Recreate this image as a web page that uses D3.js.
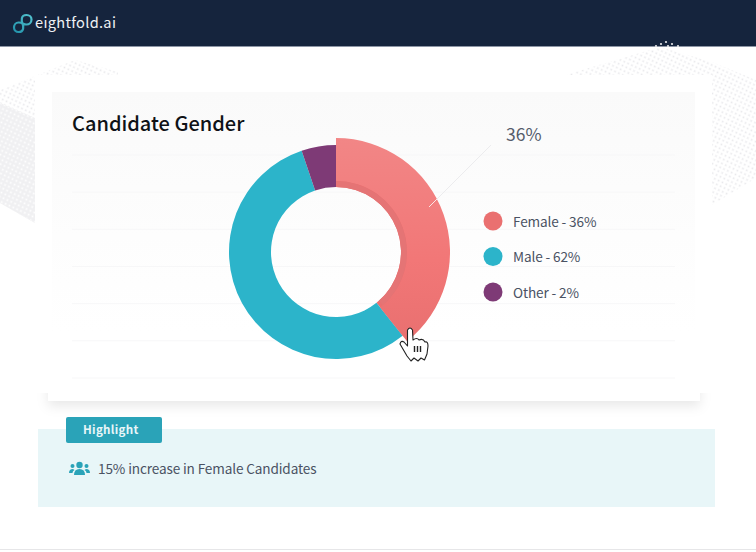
<!DOCTYPE html>
<html>
<head>
<meta charset="utf-8">
<script src="https://cdn.jsdelivr.net/npm/d3@7"></script>
<style>
  html, body { margin: 0; padding: 0; background: #fff; }
  svg { display: block; }
  text { font-family: "Noto Sans CJK SC", "Noto Sans", sans-serif; }
</style>
</head>
<body>
<div id="chart"></div>
<script>
const categories = ["Female", "Male", "Other"];
// the legend says 36 / 62 / 2 but the slices are not drawn to those numbers
const legendValues = [36, 62, 2];
const sliceValues = [39.3, 55.5, 5.2];
const colors = ["#ea7070", "#2cb4ca", "#7e3a76"];
const gridRows = [0, 1, 2, 3, 4, 5, 6];

const width = 756, height = 552;
const svg = d3.select("#chart").append("svg")
  .attr("width", width)
  .attr("height", height);

const defs = svg.append("defs");

// dotted background, grey dots on white and white dots on grey
const makeDots = (id, color) => {
  const p = defs.append("pattern")
    .attr("id", id)
    .attr("width", 6).attr("height", 6)
    .attr("patternUnits", "userSpaceOnUse")
    .attr("patternTransform", "rotate(-20)");
  p.append("circle").attr("cx", 1.5).attr("cy", 1.5).attr("r", 1).attr("fill", color);
  p.append("circle").attr("cx", 4.5).attr("cy", 4.5).attr("r", 1).attr("fill", color);
};
makeDots("dots", "#e8e8eb");
makeDots("dotsWhite", "#ffffff");

const femaleGrad = defs.append("linearGradient")
  .attr("id", "femaleGrad")
  .attr("x1", 0).attr("y1", 0).attr("x2", 0).attr("y2", 1);
femaleGrad.append("stop").attr("offset", "0%").attr("stop-color", "#f28686");
femaleGrad.append("stop").attr("offset", "60%").attr("stop-color", "#f27777");
femaleGrad.append("stop").attr("offset", "100%").attr("stop-color", "#e97070");

const panelGrad = defs.append("linearGradient")
  .attr("id", "panelGrad")
  .attr("x1", 0).attr("y1", 0).attr("x2", 0).attr("y2", 1);
panelGrad.append("stop").attr("offset", "0%").attr("stop-color", "#fafafa");
panelGrad.append("stop").attr("offset", "100%").attr("stop-color", "#ffffff");

const logoGrad = defs.append("linearGradient")
  .attr("id", "logoGrad")
  .attr("gradientUnits", "userSpaceOnUse")
  .attr("x1", 13).attr("y1", 33).attr("x2", 32).attr("y2", 14);
logoGrad.append("stop").attr("offset", "0%").attr("stop-color", "#1f8fa8");
logoGrad.append("stop").attr("offset", "100%").attr("stop-color", "#55c6d2");

const shadow = defs.append("filter")
  .attr("id", "cardShadow")
  .attr("x", "-5%").attr("y", "-10%").attr("width", "110%").attr("height", "130%");
shadow.append("feDropShadow")
  .attr("dx", 0).attr("dy", 5).attr("stdDeviation", 6)
  .attr("flood-color", "#000").attr("flood-opacity", 0.09);

svg.append("rect").attr("width", width).attr("height", height).attr("fill", "#fff");

// background dots, left and right of the card
svg.append("path")
  .attr("d", "M0,90 L75,60 L118,72 L118,90 L35,118 L35,223 L0,203 Z")
  .attr("fill", "url(#dots)");
const greyPatch = "M0,103 L35,118 L35,223 L0,203 Z";
svg.append("path").attr("d", greyPatch).attr("fill", "#f0f0f2");
svg.append("path").attr("d", greyPatch).attr("fill", "url(#dotsWhite)");
svg.append("path")
  .attr("d", "M565,75 L660,47 L712,62 L756,80 L756,178 L712,205 L600,205 Z")
  .attr("fill", "url(#dots)");

// header
svg.append("rect").attr("width", width).attr("height", 46).attr("fill", "#15243d");
svg.append("rect").attr("y", 46).attr("width", width).attr("height", 1).attr("fill", "#8d96a6");
[[656, 46], [661, 44], [666, 42], [668, 46], [672, 44], [678, 46]].forEach(p => {
  svg.append("circle").attr("cx", p[0]).attr("cy", p[1]).attr("r", 1.1).attr("fill", "#e8e8ea");
});

// logo
const logo = svg.append("g");
logo.append("path")
  .attr("d", "M22.5,23.5 C21.5,21 20.5,15 26.5,15 C29.5,15 31.5,17 31.5,19.5 C31.5,22.5 29,24.5 26.5,24.5 C25,24.5 24,24.6 22.5,23.5 C21,22.4 20,22.5 18.5,22.5 C16,22.5 14,24.5 14,27.5 C14,30 16,32 18.5,32 C24.5,32 23.5,26 22.5,23.5 Z")
  .attr("fill", "none")
  .attr("stroke", "url(#logoGrad)")
  .attr("stroke-width", 2.2);
logo.append("text")
  .attr("x", 35).attr("y", 28)
  .attr("font-size", 14.6)
  .attr("letter-spacing", 0.3)
  .attr("fill", "#eef1f4")
  .text("eightfold.ai");

// card: the shadow goes first so only its bottom edge shows
svg.append("rect")
  .attr("x", 48).attr("y", 300)
  .attr("width", 652).attr("height", 101)
  .attr("fill", "#fff")
  .attr("filter", "url(#cardShadow)");
svg.append("rect")
  .attr("x", 35).attr("y", 75)
  .attr("width", 677).attr("height", 318)
  .attr("fill", "#fff");
svg.append("rect")
  .attr("x", 52).attr("y", 92)
  .attr("width", 643).attr("height", 240)
  .attr("fill", "url(#panelGrad)");

// faint row lines behind the donut
const gridY = d3.scaleLinear().domain([0, 6]).range([155, 378]);
svg.append("g").selectAll("line")
  .data(gridRows)
  .enter()
  .append("line")
  .attr("x1", 72).attr("x2", 675)
  .attr("y1", d => gridY(d)).attr("y2", d => gridY(d))
  .attr("stroke", "#f7f7f8")
  .attr("stroke-width", 1);

svg.append("text")
  .attr("x", 72).attr("y", 131)
  .attr("font-size", 20)
  .attr("font-weight", 500)
  .attr("fill", "#0f1216")
  .text("Candidate Gender");

// donut
const cx = 336, cy = 252;
const pie = d3.pie().sort(null).value(d => d);
const arcs = pie(sliceValues);
const arc = d3.arc().innerRadius(65).outerRadius(107);
const donut = svg.append("g").attr("transform", `translate(${cx},${cy})`);

donut.selectAll("path.slice")
  .data(arcs)
  .enter()
  .append("path")
  .attr("class", "slice")
  .attr("d", arc)
  .attr("fill", (d, i) => colors[i]);

// female slice is popped out, with a darker band along its inner edge
donut.append("path")
  .attr("d", d3.arc().innerRadius(71).outerRadius(114)(arcs[0]))
  .attr("fill", "url(#femaleGrad)");
donut.append("path")
  .attr("d", d3.arc().innerRadius(65).outerRadius(71)
    .startAngle(arcs[0].startAngle).endAngle(arcs[0].endAngle * 0.98)())
  .attr("fill", "#e57475");

// leader line
svg.append("line")
  .attr("x1", 429).attr("y1", 207).attr("x2", 440).attr("y2", 196)
  .attr("stroke", "#fbe6e6").attr("stroke-width", 1);
svg.append("line")
  .attr("x1", 437).attr("y1", 199).attr("x2", 491).attr("y2", 145)
  .attr("stroke", "#ececee").attr("stroke-width", 1);
svg.append("text")
  .attr("x", 506).attr("y", 141)
  .attr("font-size", 17.5)
  .attr("fill", "#555d6b")
  .text(legendValues[0] + "%");

// legend
const legendY = d3.scalePoint().domain(categories).range([221, 292]);
const legend = svg.append("g").selectAll("g")
  .data(categories)
  .enter()
  .append("g")
  .attr("transform", d => `translate(493,${legendY(d)})`);
legend.append("circle")
  .attr("r", 9.5)
  .attr("fill", (d, i) => colors[i]);
legend.append("text")
  .attr("x", 20).attr("y", 5.5)
  .attr("font-size", 13.6)
  .attr("letter-spacing", -0.13)
  .attr("fill", "#4a5263")
  .text((d, i) => `${d} - ${legendValues[i]}%`);

// hand cursor
const hand = svg.append("g");
hand.append("path")
  .attr("d", "M407.5,330 Q410,326 412.5,330 L413,340 Q417,337 419,340 Q423,338 425,342 Q428,341 428,346 L427,354 L424.5,360 L421,358 L418,361 L414,358 L411,361 L407,356 L400,344 Q401,340 404,342 L407.5,346 Z")
  .attr("fill", "#fff")
  .attr("stroke", "#222")
  .attr("stroke-width", 1.1)
  .attr("stroke-linejoin", "round");
[414.5, 417.5, 420.5].forEach(x => {
  hand.append("line")
    .attr("x1", x).attr("x2", x).attr("y1", 346).attr("y2", 352)
    .attr("stroke", "#222").attr("stroke-width", 1.4);
});

// highlight box
svg.append("rect")
  .attr("x", 38).attr("y", 429)
  .attr("width", 677).attr("height", 78)
  .attr("fill", "#e8f6f8");
svg.append("rect")
  .attr("x", 66).attr("y", 417)
  .attr("width", 96).attr("height", 26)
  .attr("rx", 2)
  .attr("fill", "#2aa3b8");
svg.append("text")
  .attr("x", 83).attr("y", 434)
  .attr("font-size", 11.6)
  .attr("font-weight", 700)
  .attr("letter-spacing", 0.3)
  .attr("fill", "#e8f6f8")
  .text("Highlight");

// users icon
const users = svg.append("g").attr("fill", "#2aa3b8");
users.append("circle").attr("cx", 79.5).attr("cy", 465).attr("r", 3.2);
users.append("circle").attr("cx", 72.5).attr("cy", 466).attr("r", 2);
users.append("circle").attr("cx", 86.5).attr("cy", 466).attr("r", 2);
users.append("path").attr("d", "M74,475 Q74,469 79.5,469 Q85,469 85,475 Z");
users.append("path").attr("d", "M69,473 Q69,469 73,469 L74.5,470 Q72.5,471 72.5,473 Z");
users.append("path").attr("d", "M90,473 Q90,469 86,469 L84.5,470 Q86.5,471 86.5,473 Z");

svg.append("text")
  .attr("x", 98).attr("y", 474)
  .attr("font-size", 13.6)
  .attr("letter-spacing", -0.13)
  .attr("fill", "#4a5263")
  .text("15% increase in Female Candidates");

// bottom edge
svg.append("rect").attr("y", 549).attr("width", width).attr("height", 1).attr("fill", "#e6e6e8");
</script>
</body>
</html>
